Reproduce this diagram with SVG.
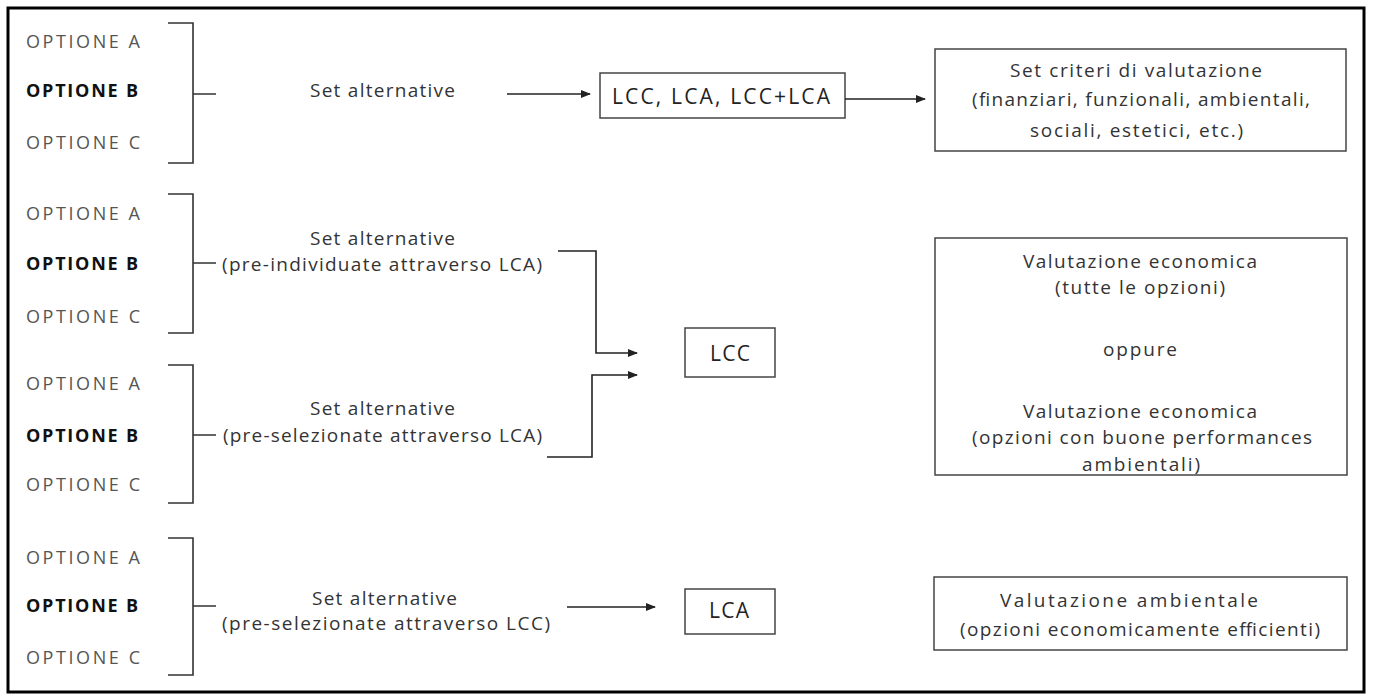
<svg xmlns="http://www.w3.org/2000/svg" width="1373" height="697" viewBox="0 0 1373 697">
<style>
  .t { font-family: "Open Sans", "Liberation Sans", sans-serif; font-size: 19px; fill: #333; }
  .opt { font-family: "Open Sans", "Liberation Sans", sans-serif; font-size: 18px; fill: #555; }
  .optb { font-family: "Open Sans", "Liberation Sans", sans-serif; font-size: 18px; fill: #111; font-weight: bold; }
  .big { font-family: "Open Sans", "Liberation Sans", sans-serif; font-size: 21px; fill: #222; }
  .box { fill: none; stroke: #444; stroke-width: 1.5; }
  .br { fill: none; stroke: #333; stroke-width: 1.6; }
  .con { fill: none; stroke: #222; stroke-width: 1.6; }
  .frame { fill: #fff; stroke: #000; stroke-width: 3; }
</style>
<defs>
  <marker id="ah" markerUnits="userSpaceOnUse" markerWidth="10" markerHeight="8" refX="9" refY="4" orient="auto">
    <path d="M0,0 L10,4 L0,8 z" fill="#222"/>
  </marker>
</defs>
<rect class="frame" x="8" y="8" width="1356" height="684"/>

<g id="options-1">
  <text class="opt" x="26" y="48" textLength="114" lengthAdjust="spacing">OPTIONE A</text>
  <text class="optb" x="26" y="97" textLength="112" lengthAdjust="spacing">OPTIONE B</text>
  <text class="opt" x="26" y="149" textLength="114" lengthAdjust="spacing">OPTIONE C</text>
  <path class="br" d="M168,23 H193 V163 H168 M193,94 H216"/>
</g>
<g id="options-2">
  <text class="opt" x="26" y="220" textLength="114" lengthAdjust="spacing">OPTIONE A</text>
  <text class="optb" x="26" y="270" textLength="112" lengthAdjust="spacing">OPTIONE B</text>
  <text class="opt" x="26" y="323" textLength="114" lengthAdjust="spacing">OPTIONE C</text>
  <path class="br" d="M168,194 H193 V333 H168 M193,263 H216"/>
</g>
<g id="options-3">
  <text class="opt" x="26" y="390" textLength="114" lengthAdjust="spacing">OPTIONE A</text>
  <text class="optb" x="26" y="442" textLength="112" lengthAdjust="spacing">OPTIONE B</text>
  <text class="opt" x="26" y="491" textLength="114" lengthAdjust="spacing">OPTIONE C</text>
  <path class="br" d="M168,365 H193 V503 H168 M193,435 H216"/>
</g>
<g id="options-4">
  <text class="opt" x="26" y="564" textLength="114" lengthAdjust="spacing">OPTIONE A</text>
  <text class="optb" x="26" y="612" textLength="112" lengthAdjust="spacing">OPTIONE B</text>
  <text class="opt" x="26" y="664" textLength="114" lengthAdjust="spacing">OPTIONE C</text>
  <path class="br" d="M168,538 H193 V675 H168 M193,606 H216"/>
</g>

<g id="label-1">
  <text class="t" x="310" y="97" textLength="145" lengthAdjust="spacing">Set alternative</text>
</g>
<g id="label-2">
  <text class="t" x="310" y="245" textLength="145" lengthAdjust="spacing">Set alternative</text>
  <text class="t" x="222" y="271" textLength="320" lengthAdjust="spacing">(pre-individuate attraverso LCA)</text>
</g>
<g id="label-3">
  <text class="t" x="310" y="415" textLength="145" lengthAdjust="spacing">Set alternative</text>
  <text class="t" x="223" y="442" textLength="319" lengthAdjust="spacing">(pre-selezionate attraverso LCA)</text>
</g>
<g id="label-4">
  <text class="t" x="312" y="605" textLength="145" lengthAdjust="spacing">Set alternative</text>
  <text class="t" x="222" y="630" textLength="328" lengthAdjust="spacing">(pre-selezionate attraverso LCC)</text>
</g>

<g id="box-lcc-lca">
  <rect class="box" x="600" y="73" width="245" height="45"/>
  <text class="big" x="612" y="104" textLength="218" lengthAdjust="spacing">LCC, LCA, LCC+LCA</text>
</g>
<g id="box-criteri">
  <rect class="box" x="935" y="49" width="411" height="102"/>
  <text class="t" x="1010" y="77" textLength="252" lengthAdjust="spacing">Set criteri di valutazione</text>
  <text class="t" x="972" y="106" textLength="338" lengthAdjust="spacing">(finanziari, funzionali, ambientali,</text>
  <text class="t" x="1030" y="137" textLength="213" lengthAdjust="spacing">sociali, estetici, etc.)</text>
</g>
<g id="box-lcc">
  <rect class="box" x="685" y="328" width="90" height="49"/>
  <text class="big" x="710" y="361" textLength="40" lengthAdjust="spacing">LCC</text>
</g>
<g id="box-economica">
  <rect class="box" x="935" y="238" width="412" height="237"/>
  <text class="t" x="1023" y="268" textLength="234" lengthAdjust="spacing">Valutazione economica</text>
  <text class="t" x="1055" y="294" textLength="170" lengthAdjust="spacing">(tutte le opzioni)</text>
  <text class="t" x="1103" y="356" textLength="74" lengthAdjust="spacing">oppure</text>
  <text class="t" x="1023" y="418" textLength="234" lengthAdjust="spacing">Valutazione economica</text>
  <text class="t" x="972" y="444" textLength="340" lengthAdjust="spacing">(opzioni con buone performances</text>
  <text class="t" x="1082" y="471" textLength="118" lengthAdjust="spacing">ambientali)</text>
</g>
<g id="box-lca">
  <rect class="box" x="685" y="589" width="90" height="45"/>
  <text class="big" x="709" y="618" textLength="40" lengthAdjust="spacing">LCA</text>
</g>
<g id="box-ambientale">
  <rect class="box" x="934" y="577" width="413" height="73"/>
  <text class="t" x="1000" y="607" textLength="258" lengthAdjust="spacing">Valutazione ambientale</text>
  <text class="t" x="960" y="636" textLength="360" lengthAdjust="spacing">(opzioni economicamente efficienti)</text>
</g>

<g id="connectors">
  <line class="con" x1="507" y1="94" x2="590" y2="94" marker-end="url(#ah)"/>
  <line class="con" x1="845" y1="99" x2="925" y2="99" marker-end="url(#ah)"/>
  <path class="con" d="M558,251 H596 V353 H637" marker-end="url(#ah)"/>
  <path class="con" d="M547,457 H592 V375 H637" marker-end="url(#ah)"/>
  <line class="con" x1="567" y1="607" x2="655" y2="607" marker-end="url(#ah)"/>
</g>
</svg>
